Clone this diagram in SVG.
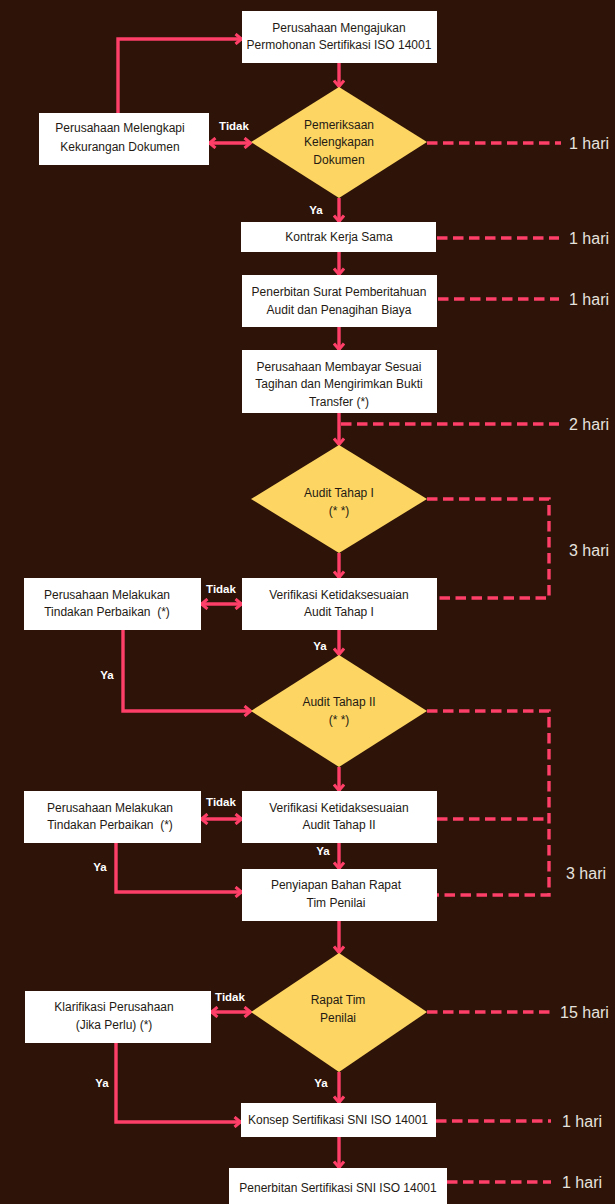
<svg xmlns="http://www.w3.org/2000/svg" width="615" height="1204" viewBox="0 0 615 1204">
<style>
.bg{fill:#2d1308}
.box{fill:#ffffff}
.dia{fill:#fdd562}
.t{font-family:"Liberation Sans",Arial,sans-serif;font-size:12px;fill:#241a14;text-anchor:middle;white-space:pre}
.lbl{font-family:"Liberation Sans",Arial,sans-serif;font-size:11.5px;font-weight:bold;fill:#ffffff;text-anchor:middle}
.hari{font-family:"Liberation Sans",Arial,sans-serif;font-size:16px;fill:#e6e2de}
.c{fill:none;stroke:#fe3f68;stroke-width:3.4}
.a{marker-end:url(#ah)}
.d2{marker-start:url(#ah);marker-end:url(#ah)}
.dash{fill:none;stroke:#fe3f68;stroke-width:3.4;stroke-dasharray:10.5 5.5}
</style>
<defs>
<marker id="ah" viewBox="0 0 10 12" markerWidth="10" markerHeight="12" refX="8.5" refY="6" markerUnits="userSpaceOnUse" orient="auto-start-reverse">
<path d="M2,1 L8,6 L2,11" fill="none" stroke="#fe3f68" stroke-width="3"/>
</marker>
</defs>
<rect class="bg" x="0" y="0" width="615" height="1204"/>

<g id="connectors">
<line class="c a" x1="339" y1="63" x2="339" y2="87"/>
<polyline class="c a" points="118,113 118,39 242,39"/>
<line class="c d2" x1="209" y1="143" x2="251" y2="143"/>
<line class="c a" x1="339" y1="198" x2="339" y2="222"/>
<line class="c a" x1="339" y1="252" x2="339" y2="275"/>
<line class="c a" x1="339" y1="327" x2="339" y2="350"/>
<line class="c a" x1="339" y1="413" x2="339" y2="445"/>
<line class="c a" x1="339" y1="553" x2="339" y2="578"/>
<line class="c d2" x1="201" y1="604" x2="242" y2="604"/>
<line class="c a" x1="339" y1="630" x2="339" y2="655"/>
<polyline class="c a" points="123,630 123,711 251,711"/>
<line class="c a" x1="339" y1="767" x2="339" y2="791"/>
<line class="c d2" x1="201" y1="819" x2="242" y2="819"/>
<line class="c a" x1="339" y1="843" x2="339" y2="869"/>
<polyline class="c a" points="116,843 116,892 242,892"/>
<line class="c a" x1="339" y1="921" x2="339" y2="953"/>
<line class="c d2" x1="211" y1="1012" x2="251" y2="1012"/>
<line class="c a" x1="339" y1="1072" x2="339" y2="1103"/>
<polyline class="c a" points="116,1043 116,1122 241,1122"/>
<line class="c a" x1="339" y1="1137" x2="339" y2="1168"/>

<line class="dash" x1="427" y1="143" x2="561" y2="143"/>
<line class="dash" x1="437" y1="238" x2="559" y2="238"/>
<line class="dash" x1="438" y1="299" x2="559" y2="299"/>
<line class="dash" x1="341" y1="424" x2="559" y2="424"/>
<polyline class="dash" points="427,499 549,499 549,598 437,598"/>
<polyline class="dash" points="427,711 549,711 549,895 437,895"/>
<line class="dash" x1="437" y1="819" x2="549" y2="819"/>
<line class="dash" x1="427" y1="1012" x2="551" y2="1012"/>
<line class="dash" x1="436" y1="1121" x2="551" y2="1121"/>
<line class="dash" x1="447" y1="1182" x2="551" y2="1182"/>

<text class="lbl" x="234" y="130">Tidak</text>
<text class="lbl" x="316" y="214">Ya</text>
<text class="lbl" x="221" y="593">Tidak</text>
<text class="lbl" x="320" y="650">Ya</text>
<text class="lbl" x="107" y="679">Ya</text>
<text class="lbl" x="221" y="806">Tidak</text>
<text class="lbl" x="323" y="855">Ya</text>
<text class="lbl" x="100" y="871">Ya</text>
<text class="lbl" x="230" y="1001">Tidak</text>
<text class="lbl" x="321" y="1087">Ya</text>
<text class="lbl" x="102" y="1087">Ya</text>

<text class="hari" x="569" y="149">1 hari</text>
<text class="hari" x="569" y="244">1 hari</text>
<text class="hari" x="569" y="305">1 hari</text>
<text class="hari" x="569" y="430">2 hari</text>
<text class="hari" x="569" y="556">3 hari</text>
<text class="hari" x="566" y="879">3 hari</text>
<text class="hari" x="560" y="1018">15 hari</text>
<text class="hari" x="562" y="1127">1 hari</text>
<text class="hari" x="562" y="1188">1 hari</text>
</g>

<g id="n1"><rect class="box" x="242" y="11" width="195" height="52"/>
<text class="t" x="339" y="32">Perusahaan Mengajukan</text>
<text class="t" x="339" y="49">Permohonan Sertifikasi ISO 14001</text></g>

<g id="n2"><rect class="box" x="39" y="113" width="170" height="52"/>
<text class="t" x="120" y="132">Perusahaan Melengkapi</text>
<text class="t" x="120" y="151">Kekurangan Dokumen</text></g>

<g id="n3"><polygon class="dia" points="339,87 427,142 339,198 251,142"/>
<text class="t" x="339" y="129">Pemeriksaan</text>
<text class="t" x="339" y="146">Kelengkapan</text>
<text class="t" x="339" y="164">Dokumen</text></g>

<g id="n4"><rect class="box" x="241" y="222" width="195" height="30"/>
<text class="t" x="339" y="241">Kontrak Kerja Sama</text></g>

<g id="n5"><rect class="box" x="242" y="275" width="195" height="52"/>
<text class="t" x="339" y="296">Penerbitan Surat Pemberitahuan</text>
<text class="t" x="339" y="314">Audit dan Penagihan Biaya</text></g>

<g id="n6"><rect class="box" x="242" y="350" width="195" height="63"/>
<text class="t" x="339" y="371">Perusahaan Membayar Sesuai</text>
<text class="t" x="339" y="388">Tagihan dan Mengirimkan Bukti</text>
<text class="t" x="339" y="406">Transfer (*)</text></g>

<g id="n7"><polygon class="dia" points="339,445 427,499 339,553 251,499"/>
<text class="t" x="339" y="497">Audit Tahap I</text>
<text class="t" x="339" y="515">(* *)</text></g>

<g id="n8"><rect class="box" x="242" y="578" width="195" height="52"/>
<text class="t" x="339" y="599">Verifikasi Ketidaksesuaian</text>
<text class="t" x="339" y="616">Audit Tahap I</text></g>

<g id="n9"><rect class="box" x="24" y="578" width="177" height="52"/>
<text class="t" x="107" y="599">Perusahaan Melakukan</text>
<text class="t" x="107" y="616" xml:space="preserve">Tindakan Perbaikan  (*)</text></g>

<g id="n10"><polygon class="dia" points="339,655 427,711 339,767 251,711"/>
<text class="t" x="339" y="706">Audit Tahap II</text>
<text class="t" x="339" y="724">(* *)</text></g>

<g id="n11"><rect class="box" x="242" y="791" width="195" height="52"/>
<text class="t" x="339" y="812">Verifikasi Ketidaksesuaian</text>
<text class="t" x="339" y="829">Audit Tahap II</text></g>

<g id="n12"><rect class="box" x="24" y="791" width="177" height="52"/>
<text class="t" x="110" y="812">Perusahaan Melakukan</text>
<text class="t" x="110" y="829" xml:space="preserve">Tindakan Perbaikan  (*)</text></g>

<g id="n13"><rect class="box" x="242" y="869" width="195" height="52"/>
<text class="t" x="336" y="889">Penyiapan Bahan Rapat</text>
<text class="t" x="336" y="907">Tim Penilai</text></g>

<g id="n14"><polygon class="dia" points="339,953 427,1012 339,1072 251,1012"/>
<text class="t" x="338" y="1004">Rapat Tim</text>
<text class="t" x="338" y="1022">Penilai</text></g>

<g id="n15"><rect class="box" x="25" y="991" width="186" height="52"/>
<text class="t" x="114" y="1011">Klarifikasi Perusahaan</text>
<text class="t" x="114" y="1029">(Jika Perlu) (*)</text></g>

<g id="n16"><rect class="box" x="241" y="1103" width="195" height="34"/>
<text class="t" x="338" y="1124">Konsep Sertifikasi SNI ISO 14001</text></g>

<g id="n17"><rect class="box" x="229" y="1168" width="218" height="40"/>
<text class="t" x="338" y="1192">Penerbitan Sertifikasi SNI ISO 14001</text></g>
</svg>
